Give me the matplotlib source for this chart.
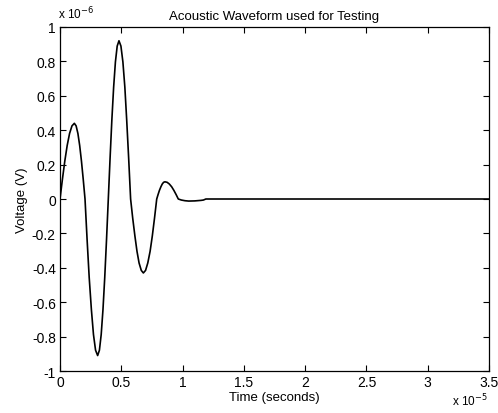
import matplotlib
matplotlib.use('Agg')
import matplotlib.pyplot as plt
from matplotlib.ticker import FuncFormatter
import numpy as np

plt.rcParams['font.family'] = ['Liberation Sans', 'DejaVu Sans']

### Data (time in units of 1e-5 s, voltage in units of 1e-6 V)

time_scale = 1e-5
volt_scale = 1e-6

time_vals = [0.0, 0.0195, 0.039, 0.0585, 0.078, 0.0975, 0.117,
             0.1315, 0.146, 0.1605, 0.175, 0.1895, 0.204,
             0.221, 0.238, 0.256, 0.273, 0.290, 0.307,
             0.3215, 0.336, 0.3505, 0.365, 0.3795, 0.394,
             0.4085, 0.423, 0.4375, 0.452, 0.4665, 0.481,
             0.497, 0.513, 0.529, 0.544, 0.560, 0.576,
             0.593, 0.611, 0.628, 0.645, 0.663, 0.680,
             0.698, 0.716, 0.735, 0.753, 0.771, 0.789,
             0.800, 0.811, 0.823, 0.834, 0.845, 0.856,
             0.874, 0.892, 0.911, 0.929, 0.947, 0.965,
             0.990, 1.020, 1.050, 1.100, 1.150, 1.170, 1.190, 3.500]
volt_vals = [0.0, 0.114, 0.220, 0.311, 0.381, 0.425, 0.440,
             0.425, 0.381, 0.311, 0.220, 0.114, 0.0,
             -0.236, -0.455, -0.643, -0.788, -0.879, -0.910,
             -0.879, -0.788, -0.643, -0.455, -0.236, 0.0,
             0.238, 0.460, 0.650, 0.797, 0.889, 0.920,
             0.889, 0.797, 0.650, 0.460, 0.238, 0.0,
             -0.111, -0.215, -0.304, -0.372, -0.415, -0.430,
             -0.415, -0.372, -0.304, -0.215, -0.111, 0.0,
             0.026, 0.050, 0.071, 0.087, 0.097, 0.100,
             0.097, 0.087, 0.071, 0.050, 0.026, 0.0,
             -0.006, -0.010, -0.012, -0.011, -0.008, -0.006, 0.0, 0.0]

x_ticks = [0, 0.5, 1, 1.5, 2, 2.5, 3, 3.5]
y_ticks = [-1, -0.8, -0.6, -0.4, -0.2, 0, 0.2, 0.4, 0.6, 0.8, 1]

### Set up figure

fig = plt.figure(figsize=(4.98, 4.14), dpi=100)
ax = fig.add_axes([0.1205, 0.1014, 0.8615, 0.831])

t = np.array(time_vals) * time_scale
v = np.array(volt_vals) * volt_scale
ax.plot(t, v, color='black', lw=1.2, solid_joinstyle='round')

ax.set_xlim(0, 3.5 * time_scale)
ax.set_ylim(-1 * volt_scale, 1 * volt_scale)
ax.set_xticks(np.array(x_ticks) * time_scale)
ax.set_yticks(np.array(y_ticks) * volt_scale)

def fmt(scale):
    def f(val, pos):
        s = '%g' % round(val / scale, 6)
        return '0' if s == '-0' else s
    return FuncFormatter(f)

ax.xaxis.set_major_formatter(fmt(time_scale))
ax.yaxis.set_major_formatter(fmt(volt_scale))

ax.tick_params(direction='in', length=4, width=0.8, top=True, right=True,
               labelsize=10, pad=3, colors='black')
for sp in ax.spines.values():
    sp.set_linewidth(0.9)

ax.set_title('Acoustic Waveform used for Testing', fontsize=9.5, pad=6)
ax.set_xlabel('Time (seconds)', fontsize=9.5, labelpad=1)
ax.set_ylabel('Voltage (V)', fontsize=9.5, labelpad=3)

# exponent labels in MATLAB style
fig.text(0.116, 0.945, r'x 10$^{-6}$', fontsize=8.5, ha='left', va='bottom')
fig.text(0.908, 0.012, r'x 10$^{-5}$', fontsize=8.5, ha='left', va='bottom')

fig.savefig('out.png', dpi=100)
plt.close(fig)
